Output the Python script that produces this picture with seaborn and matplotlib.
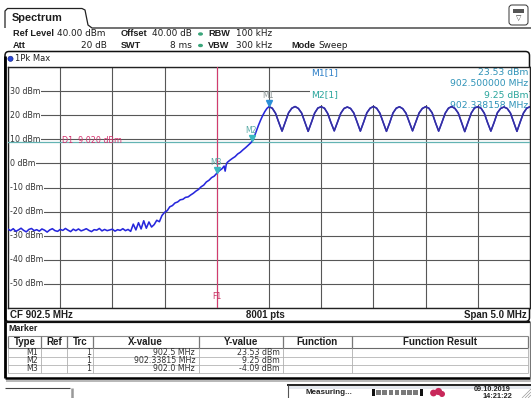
import numpy as np
import pandas as pd
import matplotlib
matplotlib.use("Agg")
import matplotlib.pyplot as plt
import matplotlib.patches as mpatches
import matplotlib.transforms as mtransforms
import seaborn as sns

# ---------------- trace data (MHz / dBm) ----------------
noise_start_mhz, noise_stop_mhz = 900.0, 901.375
noise_dbm = [
    -27.3, -27.9, -27.1, -28.2, -27.6, -26.9, -27.8, -28.4, -27.4, -27.0,
    -27.9, -27.5, -28.1, -27.2, -27.7, -28.5, -27.6, -27.1, -27.9, -28.2,
    -27.4, -27.8, -27.0, -27.7, -28.3, -27.3, -27.9, -27.2, -28.0, -27.6,
    -27.1, -27.8, -28.3, -27.5, -27.7, -27.0, -28.0, -27.4, -27.9, -27.6,
    -27.3, -28.1, -27.5, -27.8, -27.1, -27.9, -27.4, -28.2, -25.2, -27.6,
    -24.6, -27.2, -23.8, -26.9, -24.3, -26.4,
]

rise_mhz = [
    901.4, 901.425, 901.45, 901.475, 901.5, 901.525, 901.55, 901.575, 901.6,
    901.625, 901.65, 901.675, 901.7, 901.725, 901.75, 901.775, 901.8, 901.825,
    901.85, 901.875, 901.9, 901.925, 901.95, 901.975, 902.0, 902.025, 902.05,
    902.07, 902.08, 902.09, 902.1, 902.125, 902.15, 902.175, 902.2, 902.225,
    902.25, 902.275, 902.3, 902.325, 902.338158, 902.36, 902.38, 902.4, 902.42,
    902.44, 902.46, 902.48,
]
rise_dbm = [
    -25.4, -23.6, -24.2, -21.6, -20.3, -19.6, -18.0, -17.5, -16.4,
    -16.0, -15.1, -14.9, -14.1, -13.9, -13.1, -12.4, -11.5, -10.8,
    -9.7, -9.0, -7.7, -7.0, -5.9, -5.3, -4.09, -3.0, -2.2,
    -1.1, -3.2, -0.6, 0.4, 1.3, 2.1, 2.8, 3.9, 4.6,
    5.6, 6.5, 7.5, 8.5, 9.25, 11.2, 13.6, 15.9, 18.0,
    19.9, 21.5, 22.8,
]

ripple_start_mhz, ripple_stop_mhz = 902.5, 905.0
ripple_dbm = [
    23.53, 22.9, 20.8, 17.0, 13.4, 17.2, 21.0, 22.9,
    23.6, 22.8, 20.9, 17.1, 13.3, 17.0, 20.9, 23.0,
    23.5, 22.9, 20.7, 16.9, 13.5, 17.1, 20.8, 22.8,
    23.4, 22.8, 20.9, 17.2, 13.4, 17.1, 21.0, 22.9,
    23.6, 22.9, 20.8, 17.0, 13.3, 16.9, 20.9, 22.9,
    23.5, 22.7, 20.8, 17.1, 13.5, 17.2, 20.9, 22.8,
    23.5, 22.9, 21.0, 17.0, 13.4, 17.0, 20.8, 22.9,
    23.6, 22.8, 20.9, 17.1, 13.2, 17.1, 20.9, 23.0,
    23.5, 22.9, 20.8, 16.9, 13.4, 17.0, 21.0, 22.8,
    23.4, 22.8, 20.9, 17.1, 13.3, 17.2, 20.9, 22.9,
    23.5,
]

# ---------------- markers, lines, labels ----------------
marker_names = ["M1", "M2", "M3"]
marker_mhz = [902.5, 902.338158, 902.0]
marker_dbm = [23.53, 9.25, -4.09]
marker_x_text = ["902.5 MHz", "902.33815 MHz", "902.0 MHz"]
display_line_dbm = 9.02
freq_line_mhz = 902.0
level_ticks = [30, 20, 10, 0, -10, -20, -30, -40, -50]
center_mhz, span_mhz, sweep_points = 902.5, 5.0, 8001

noise_mhz = np.linspace(noise_start_mhz, noise_stop_mhz, len(noise_dbm))
ripple_mhz = np.linspace(ripple_start_mhz, ripple_stop_mhz, len(ripple_dbm))

trace = pd.DataFrame({
    "MHz": np.concatenate([noise_mhz, rise_mhz, ripple_mhz]),
    "dBm": np.concatenate([noise_dbm, rise_dbm, ripple_dbm]),
})
ripple = pd.DataFrame({"MHz": ripple_mhz, "dBm": ripple_dbm})

plt.rcParams["font.family"] = ["DejaVu Sans"]

W, H = 531, 398
fig = plt.figure(figsize=(W / 100, H / 100), dpi=100)
fig.patch.set_facecolor("white")

# pixel-space canvas for the instrument chrome
ui = fig.add_axes([0, 0, 1, 1])
ui.set_xlim(0, W)
ui.set_ylim(H, 0)
ui.axis("off")

BOLD = "Liberation Sans"


def txt(x, y, s, size, bold=False, ha="left", color="#1e1e1e", **kw):
    ui.text(x, y, s, fontsize=size, ha=ha, va="center", color=color,
            fontweight="bold" if bold else "normal",
            family=BOLD if bold else "DejaVu Sans", **kw)


def line(xs, ys, color="black", lw=1.0, **kw):
    ui.plot(xs, ys, color=color, lw=lw, solid_capstyle="butt", **kw)


# title tab and top-right icon
line([5, 5, 7.5, 82, 85, 88, 92, 531], [28, 11, 8.5, 8.5, 10, 25, 28, 28], color="#222", lw=0.9)
txt(12, 18, "Spectrum", 7.9, bold=True)
ui.add_patch(mpatches.FancyBboxPatch((509, 5), 19, 20, boxstyle="round,pad=0,rounding_size=3",
                                     fc="white", ec="#333", lw=0.7))
ui.add_patch(mpatches.Rectangle((513, 9), 11, 3.5, fc="#555", ec="none"))
txt(518.5, 18, "\u25bd", 5, ha="center", color="#333")

# settings rows
r1, r2 = 34, 45.5
txt(13, r1, "Ref Level", 6.6, bold=True)
txt(57, r1, "40.00 dBm", 6.4)
txt(121, r1, "Offset", 6.6, bold=True)
txt(192, r1, "40.00 dB", 6.4, ha="right")
txt(208, r1, "RBW", 6.6, bold=True)
txt(236, r1, "100 kHz", 6.4)
txt(13, r2, "Att", 6.6, bold=True)
txt(107, r2, "20 dB", 6.4, ha="right")
txt(121, r2, "SWT", 6.6, bold=True)
txt(192, r2, "8 ms", 6.4, ha="right")
txt(208, r2, "VBW", 6.6, bold=True)
txt(236, r2, "300 kHz", 6.4)
txt(291, r2, "Mode", 6.6, bold=True)
txt(318, r2, "Sweep", 6.4)
for yy in (r1, r2):
    ui.add_patch(mpatches.Ellipse((200.5, yy), 5, 3.4, fc="#3aa57a", ec="none"))

# diagram panel
ui.add_patch(mpatches.FancyBboxPatch((5, 51.5), 524.5, 270, boxstyle="round,pad=0,rounding_size=4",
                                     fc="none", ec="#111", lw=1.1))
line([5.3, 5.3], [56, 377.5], color="black", lw=2.0)
ui.add_patch(mpatches.Circle((10.5, 58.8), 2.6, fc="#2a46d6", ec="#102080", lw=0.4))
txt(15, 58.8, "1Pk Max", 6.0)

txt(10, 315, f"CF {center_mhz} MHz", 7.0, bold=True)
txt(265, 315, f"{sweep_points} pts", 7.0, bold=True, ha="center")
txt(527, 315, f"Span {span_mhz} MHz", 7.0, bold=True, ha="right")
line([5, 530], [321.5, 321.5], color="#111", lw=1.6)

# marker table
txt(8, 328.5, "Marker", 6.4, bold=True)
col_x = [8, 41, 66.7, 92.7, 198.7, 282.7, 351.7, 528]
headers = ["Type", "Ref", "Trc", "X-value", "Y-value", "Function", "Function Result"]
y_top, y_head, rows_y = 336, 348, [356.5, 364.5, 372.5]
line([8, 528], [y_top, y_top], color="#8a8a8a", lw=0.8)
line([8, 528], [y_head, y_head], color="#6a6a6a", lw=0.8)
for ry in rows_y:
    line([8, 528], [ry, ry], color="#b4b4b4", lw=0.6)
for cx in col_x:
    line([cx, cx], [y_top, y_head], color="#777", lw=0.9)
    line([cx, cx], [y_head, rows_y[-1]], color="#b0b0b0", lw=0.6)
for h, a, b in zip(headers, col_x[:-1], col_x[1:]):
    txt((a + b) / 2, 342.3, h, 7.0, bold=True, ha="center")
for i, name in enumerate(marker_names):
    yy = rows_y[i] - 4.2
    txt(38, yy, name, 5.7, ha="right", color="#333")
    txt(91, yy, "1", 5.7, ha="right", color="#333")
    txt(195, yy, marker_x_text[i], 5.7, ha="right", color="#333")
    txt(280, yy, f"{marker_dbm[i]:.2f} dBm", 5.7, ha="right", color="#333")
line([5, 530], [377.8, 377.8], color="black", lw=1.8)
line([6, 531], [380.5, 380.5], color="#b8b8b8", lw=1.4)
line([529.6, 529.6], [321, 378], color="#777", lw=0.9)

# status bar
line([5, 70], [387.5, 387.5], color="#444", lw=0.8)
line([71.5, 71.5], [388, 398], color="#999", lw=1.8)
line([287, 531], [385, 385], color="#222", lw=1.4)
line([288, 288], [385, 398], color="#555", lw=0.8)
ui.add_patch(mpatches.Rectangle((289, 386), 242, 3, fc="#e4e8ee", ec="none"))
txt(329, 392.5, "Measuring...", 5.8, bold=True, ha="center", color="#222")
ui.add_patch(mpatches.Rectangle((371.5, 389), 3.5, 7, fc="#111", ec="none"))
ui.add_patch(mpatches.Rectangle((419.5, 389), 3.5, 7, fc="#111", ec="none"))
for k in range(7):
    ui.add_patch(mpatches.Rectangle((376.3 + k * 6.1, 390), 4.8, 5, fc="#7a7a7a", ec="none"))
for cx, cy, r in [(433.5, 393, 3.4), (438.5, 391.5, 3.6), (442, 394, 3.0)]:
    ui.add_patch(mpatches.Circle((cx, cy), r, fc="#c8285a", ec="none"))
txt(492, 389.5, "09.10.2019", 5.3, bold=True, ha="center", color="#222")
txt(497, 396.8, "14:21:22", 5.3, bold=True, ha="center", color="#222")
for d in (3, 6, 9):
    line([531 - d, 531], [398, 398 - d], color="#999", lw=0.5)

# ---------------- spectrum diagram ----------------
x0, x1, y0, y1 = 8, 530, 67, 308
ax = fig.add_axes([x0 / W, 1 - y1 / H, (x1 - x0) / W, (y1 - y0) / H])
ax.set_facecolor("white")

sns.lineplot(data=trace, x="MHz", y="dBm", ax=ax, color="#2727dc", lw=1.15,
             estimator=None, sort=False, zorder=3)
sns.lineplot(data=ripple, x="MHz", y="dBm", ax=ax, color="#37319c", lw=1.0,
             estimator=None, sort=False, zorder=3.1)

ax.set_xlim(center_mhz - span_mhz / 2, center_mhz + span_mhz / 2)
ax.set_ylim(-60, 40)
ax.set_xticks(np.linspace(center_mhz - span_mhz / 2, center_mhz + span_mhz / 2, 11))
ax.set_yticks(np.arange(-60, 41, 10))
ax.tick_params(length=0, labelbottom=False, labelleft=False)
ax.set_xlabel("")
ax.set_ylabel("")
ax.set_axisbelow(True)
ax.grid(True, color="#575757", lw=0.8)
for sp in ax.spines.values():
    sp.set_color("#222")
    sp.set_linewidth(1.0)

for lv in level_ticks:
    ax.text(900.02, lv, f"{lv} dBm", fontsize=5.7, color="#333", ha="left", va="center",
            bbox=dict(fc="white", ec="none", pad=0.6), zorder=2)

# display line D1 and frequency line F1
ax.axhline(display_line_dbm, color="#63b3b3", lw=0.9, zorder=2.6)
ax.text(900.52, display_line_dbm + 0.3, f"D1  {display_line_dbm:.3f} dBm", fontsize=5.8,
        color="#d4306c", ha="left", va="center", zorder=2.7)
ax.axvline(freq_line_mhz, color="#d23c6e", lw=0.8, zorder=2.6)
ax.text(freq_line_mhz, -55.4, "F1", fontsize=5.6, color="#c83264", ha="center", va="center", zorder=2.7)

# marker readout field (top right)
ax.add_patch(mpatches.Rectangle((310, 67.5), 219, 37, transform=ui.transData,
                                fc="white", ec="none", zorder=1.5))
c1, c2 = "#2f80c8", "#2aa59c"
ax.text(311, 72.5, "M1[1]", transform=ui.transData, fontsize=6.7, color=c1, va="center", zorder=2.5)
ax.text(528, 72.5, f"{marker_dbm[0]:.2f} dBm", transform=ui.transData, fontsize=6.7, color="#2f93b8",
        ha="right", va="center", zorder=2.5)
ax.text(528, 83.5, f"{marker_mhz[0]:.6f} MHz", transform=ui.transData, fontsize=6.7, color="#2f93b8",
        ha="right", va="center", zorder=2.5)
ax.text(311, 95, "M2[1]", transform=ui.transData, fontsize=6.7, color=c2, va="center", zorder=2.5)
ax.text(528, 95, f"{marker_dbm[1]:.2f} dBm", transform=ui.transData, fontsize=6.7, color=c2,
        ha="right", va="center", zorder=2.5)
ax.text(528, 106, f"{marker_mhz[1]:.6f} MHz", transform=ui.transData, fontsize=6.7, color="#2f93b8",
        ha="right", va="center", zorder=2.5)

# marker symbols
tri = mtransforms.offset_copy(ax.transData, fig=fig, x=0, y=3.3, units="dots")
lab = mtransforms.offset_copy(ax.transData, fig=fig, x=-1, y=11, units="dots")
tri_colors = ["#2b8fd6", "#3ab8c0", "#3ab8c0"]
lab_colors = ["#8c9696", "#58aaa6", "#58aaa6"]
for i, name in enumerate(marker_names):
    ax.plot(marker_mhz[i], marker_dbm[i], marker="v", ms=5, color=tri_colors[i],
            mec=tri_colors[i], transform=tri, zorder=4, clip_on=False)
    ax.text(marker_mhz[i], marker_dbm[i], name, transform=lab, fontsize=5.6,
            color=lab_colors[i], ha="center", va="center", zorder=4)

fig.savefig("out.png", dpi=100, facecolor="white")
